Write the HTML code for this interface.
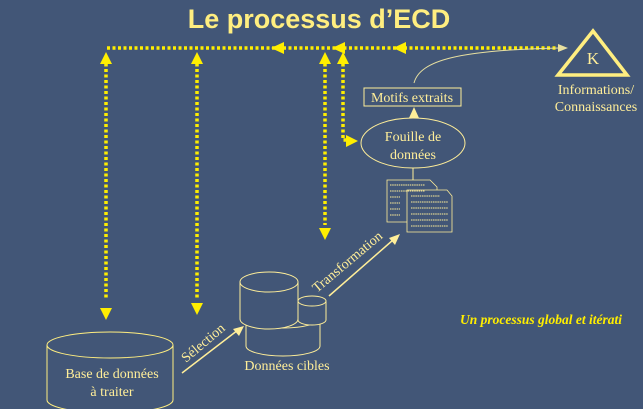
<!DOCTYPE html>
<html><head><meta charset="utf-8"><style>
html,body{margin:0;padding:0;background:#425677;width:643px;height:409px;overflow:hidden}
svg{display:block}
</style></head><body>
<svg width="643" height="409" viewBox="0 0 643 409" xmlns="http://www.w3.org/2000/svg">
<rect width="643" height="409" fill="#425677"/>
<text x="319" y="28" text-anchor="middle" font-family="Liberation Sans, sans-serif" font-weight="bold" font-size="27" fill="#ffee80">Le processus d’ECD</text>
<g stroke="#ffee00" stroke-width="3.5" stroke-dasharray="3,2.5" fill="none">
<path d="M107 48 H560"/>
<path d="M106 58 V300"/>
<path d="M197 58 V298"/>
<path d="M325 58 V225"/>
<path d="M343 58 V140 H350"/>
</g>
<g fill="#ffee00">
<polygon points="106,52 100,64 112,64"/>
<polygon points="106,320 100,308 112,308"/>
<polygon points="197,52 191,64 203,64"/>
<polygon points="197,315 191,303 203,303"/>
<polygon points="325,52 319,64 331,64"/>
<polygon points="325,240 319,228 331,228"/>
<polygon points="343,52 337,64 349,64"/>
<polygon points="358,141 346,135 346,147"/>
<polygon points="271,48 284,42 284,54"/>
<polygon points="332,48 345,42 345,54"/>
<polygon points="393,48 406,42 406,54"/>
</g>
<path d="M414 83 C420 60 460 50 560 48" stroke="#e8e0a0" stroke-width="1" fill="none"/>
<polygon points="568,48 558,44 558,52" fill="#e8e0a0"/>
<polygon points="593,31 558,75 627,75" fill="none" stroke="#ffee80" stroke-width="3.5"/>
<g font-family="Liberation Serif, serif" fill="#ffee99">
<text x="593" y="64" text-anchor="middle" font-size="17">K</text>
<text x="596" y="94" text-anchor="middle" font-size="14">Informations/</text>
<text x="596" y="111" text-anchor="middle" font-size="14">Connaissances</text>
</g>
<rect x="364" y="88" width="97" height="18" fill="none" stroke="#ffee99" stroke-width="1"/>
<text x="412" y="102" text-anchor="middle" font-family="Liberation Serif, serif" font-size="14" fill="#ffee99">Motifs extraits</text>
<polygon points="414,107 409,118 419,118" fill="#ffee99"/>
<ellipse cx="413" cy="143" rx="52" ry="25" fill="none" stroke="#ffee99" stroke-width="1"/>
<text x="413" y="141" text-anchor="middle" font-family="Liberation Serif, serif" font-size="14" fill="#ffee99">Fouille de</text>
<text x="413" y="159" text-anchor="middle" font-family="Liberation Serif, serif" font-size="14" fill="#ffee99">données</text>
<line x1="413" y1="168" x2="413" y2="180" stroke="#ffee99"/>
<g stroke="#ffee99" stroke-width="0.8" fill="#425677">
<path d="M387 180 H430 L437 187 V222 H387 Z"/>
<path d="M407 190 H447 L452 196 V232 H407 Z"/>
</g>
<g stroke="#ffee99" stroke-width="1" stroke-dasharray="1.5,0.7">
<path d="M390 185H425M390 191H425M390 197H400M390 203H400M390 209H400M390 215H400"/>
<path d="M411 196H440M411 202H448M411 208H448M411 214H448M411 220H448M411 226H448"/>
</g>
<path d="M47 345 V400 A63 13 0 0 0 173 400 V345" fill="none" stroke="#ffee80" stroke-width="1"/>
<ellipse cx="110" cy="345" rx="63" ry="13" fill="none" stroke="#ffee80" stroke-width="1"/>
<text x="112" y="378" text-anchor="middle" font-family="Liberation Serif, serif" font-size="14" fill="#ffee99">Base de données</text>
<text x="112" y="396" text-anchor="middle" font-family="Liberation Serif, serif" font-size="14" fill="#ffee99">à traiter</text>
<line x1="182" y1="373" x2="238" y2="330" stroke="#ffee99" stroke-width="1.5"/>
<polygon points="244,326 233,329 239,336" fill="#ffee99"/>
<text transform="translate(186,363) rotate(-40)" font-family="Liberation Serif, serif" font-size="14" fill="#ffee99">Sélection</text>
<g stroke="#ffee99" stroke-width="1" fill="#425677">
<path d="M246 318 V346 A37 10 0 0 0 320 346 V318"/>
<ellipse cx="283" cy="318" rx="37" ry="10"/>
<path d="M240 282 V319 A29 10 0 0 0 298 319 V282"/>
<ellipse cx="269" cy="282" rx="29" ry="10"/>
<path d="M298 301 V320 A14 5 0 0 0 326 320 V301"/>
<ellipse cx="312" cy="301" rx="14" ry="5"/>
</g>
<text x="287" y="370" text-anchor="middle" font-family="Liberation Serif, serif" font-size="14" fill="#ffee99">Données cibles</text>
<line x1="329" y1="296" x2="393" y2="240" stroke="#ffee99" stroke-width="1.5"/>
<polygon points="400,234 389,238 395,245" fill="#ffee99"/>
<text transform="translate(317,293) rotate(-40)" font-family="Liberation Serif, serif" font-size="14" fill="#ffee99">Transformation</text>
<text x="460" y="324" font-family="Liberation Serif, serif" font-style="italic" font-weight="bold" font-size="13.5" fill="#ffee00">Un processus global et itérati</text>
</svg>
</body></html>
